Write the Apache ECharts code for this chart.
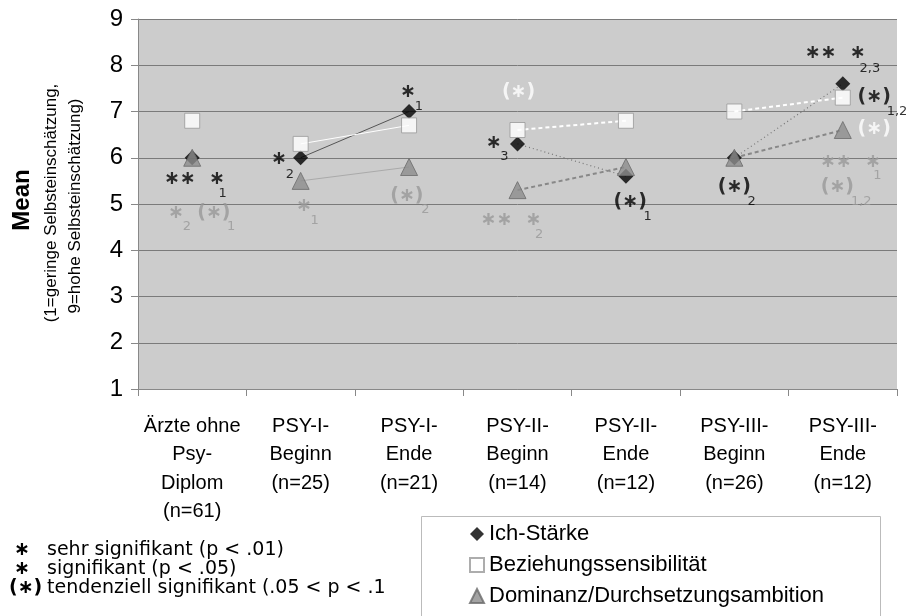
<!DOCTYPE html>
<html>
<head>
<meta charset="utf-8">
<script src="https://cdn.jsdelivr.net/npm/echarts@6/dist/echarts.min.js"></script>
<style>
  html, body { margin: 0; padding: 0; background: #fff; }
  #chart { width: 906px; height: 616px; }
</style>
</head>
<body>
<div id="chart"></div>
<script>
const categories = [
  'Ärzte ohne\nPsy-\nDiplom\n(n=61)',
  'PSY-I-\nBeginn\n(n=25)',
  'PSY-I-\nEnde\n(n=21)',
  'PSY-II-\nBeginn\n(n=14)',
  'PSY-II-\nEnde\n(n=12)',
  'PSY-III-\nBeginn\n(n=26)',
  'PSY-III-\nEnde\n(n=12)'
];
const ichStaerke = [6.0, 6.0, 7.0, 6.3, 5.6, 6.0, 7.6];
const beziehung = [6.8, 6.3, 6.7, 6.6, 6.8, 7.0, 7.3];
const dominanz = [6.0, 5.5, 5.8, 5.3, 5.8, 6.0, 6.6];
// Beginn -> Ende pairs that are joined by a line
const segments = [[1, 2], [3, 4], [5, 6]];

// significance marks: [x in category units (0..7), y, text, tone, kind]
const notes = [
  [0.52, 5.54, '**  *', 'k', 'star'],
  [0.78, 5.22, '1', 'k', 'sub'],
  [1.30, 5.98, '*', 'k', 'star'],
  [1.40, 5.63, '2', 'k', 'sub'],
  [2.49, 7.42, '*', 'k', 'star'],
  [2.59, 7.10, '1', 'k', 'sub'],
  [3.28, 6.32, '*', 'k', 'star'],
  [3.38, 6.02, '3', 'k', 'sub'],
  [4.54, 5.05, '(*)', 'k', 'star'],
  [4.70, 4.72, '1', 'k', 'sub'],
  [5.50, 5.37, '(*)', 'k', 'star'],
  [5.66, 5.05, '2', 'k', 'sub'],
  [6.43, 8.27, '**  *', 'k', 'star'],
  [6.75, 7.92, '2,3', 'k', 'sub'],
  [6.79, 7.32, '(*)', 'k', 'star'],
  [7.00, 6.99, '1,2', 'k', 'sub'],
  [0.35, 4.81, '*', 'g', 'star'],
  [0.45, 4.51, '2', 'g', 'sub'],
  [0.70, 4.81, '(*)', 'g', 'star'],
  [0.86, 4.51, '1', 'g', 'sub'],
  [1.53, 4.96, '*', 'g', 'star'],
  [1.63, 4.64, '1', 'g', 'sub'],
  [2.48, 5.18, '(*)', 'g', 'star'],
  [2.65, 4.87, '2', 'g', 'sub'],
  [3.44, 4.65, '**  *', 'g', 'star'],
  [3.70, 4.33, '2', 'g', 'sub'],
  [6.57, 5.91, '**  *', 'g', 'star'],
  [6.82, 5.61, '1', 'g', 'sub'],
  [6.45, 5.37, '(*)', 'g', 'star'],
  [6.67, 5.05, '1,2', 'g', 'sub'],
  [3.51, 7.42, '(*)', 'w', 'star'],
  [6.79, 6.62, '(*)', 'w', 'star']
];

const keyRows = [
  ['*', 'sehr signifikant (p < .01)'],
  ['*', 'signifikant (p < .05)'],
  ['(*)', 'tendenziell signifikant (.05 < p < .10)']
];

const toneColor = { k: '#000', g: '#999', w: '#fff' };

const myChart = echarts.init(document.getElementById('chart'));

function segData(values, pair) {
  return values.map((v, i) => (i === pair[0] || i === pair[1]) ? v : null);
}

// centred asterisk glyph, like the original's font
const star = s => s.replace(/\*/g, '\u2217');

const measures = [
  {
    name: 'Ich-Stärke', values: ichStaerke, symbol: 'diamond', size: 15,
    item: { color: '#000' },
    lines: [
      { color: '#555', width: 1, type: 'solid' },
      { color: '#777', width: 1.2, type: [1, 3] },
      { color: '#777', width: 1.2, type: [1, 3] }
    ]
  },
  {
    name: 'Beziehungssensibilität', values: beziehung, symbol: 'rect', size: 15,
    item: { color: '#fff', borderColor: '#999', borderWidth: 1 },
    lines: [
      { color: '#fff', width: 1, type: 'solid' },
      { color: '#fff', width: 2, type: [4, 3] },
      { color: '#fff', width: 2, type: [4, 3] }
    ]
  },
  {
    name: 'Dominanz/Durchsetzungsambition', values: dominanz, symbol: 'triangle', size: 17,
    item: { color: '#8c8c8c', borderColor: '#6a6a6a', borderWidth: 1 },
    lines: [
      { color: '#aaa', width: 1, type: 'solid' },
      { color: '#888', width: 2, type: [4, 3] },
      { color: '#888', width: 2, type: [4, 3] }
    ]
  }
];

const series = [];
measures.forEach(m => {
  segments.forEach((pair, k) => {
    series.push({
      name: m.name + '-' + k,
      type: 'line',
      data: segData(m.values, pair),
      symbol: 'none',
      silent: true,
      z: 2,
      lineStyle: m.lines[k]
    });
  });
});
measures.forEach(m => {
  series.push({
    name: m.name,
    type: 'scatter',
    data: m.values,
    symbol: m.symbol,
    symbolSize: m.size,
    itemStyle: m.item,
    z: 3
  });
});

series.push({
  type: 'scatter',
  xAxisIndex: 1,
  symbolSize: 0,
  silent: true,
  clip: false,
  z: 5,
  data: notes.map(n => ({
    value: [n[0], n[1]],
    label: {
      show: true,
      position: 'inside',
      formatter: n[4] === 'star' ? star(n[2]) : n[2],
      color: toneColor[n[3]],
      fontFamily: 'DejaVu Sans',
      fontWeight: n[4] === 'star' ? 'bold' : 'normal',
      fontSize: n[4] === 'star' ? 19 : 13
    }
  }))
});

const graphic = [
  {
    type: 'rect', left: 421, top: 516, z: 0,
    shape: { width: 459, height: 130 },
    style: { fill: '#fff', stroke: '#bbb', lineWidth: 1 }
  },
  {
    type: 'text', x: 22, y: 200, rotation: Math.PI / 2, z: 1,
    style: { text: 'Mean', font: 'bold 24px "Liberation Sans"', fill: '#000', align: 'center', verticalAlign: 'middle' }
  },
  {
    type: 'text', x: 51, y: 203, rotation: Math.PI / 2, z: 1,
    style: { text: '(1=geringe Selbsteinschätzung,', font: '17px "Liberation Sans"', fill: '#000', align: 'center', verticalAlign: 'middle' }
  },
  {
    type: 'text', x: 75, y: 206, rotation: Math.PI / 2, z: 1,
    style: { text: '9=hohe Selbsteinschätzung)', font: '17px "Liberation Sans"', fill: '#000', align: 'center', verticalAlign: 'middle' }
  }
];
keyRows.forEach((row, i) => {
  graphic.push({
    type: 'text', x: row[0] === '*' ? 14 : 9, y: 550 + i * 19, z: 1,
    style: { text: star(row[0]), font: 'bold 19px "DejaVu Sans"', fill: '#000', verticalAlign: 'middle' }
  });
  graphic.push({
    type: 'text', x: 47, y: 550 + i * 19, z: 1,
    style: {
      text: row[1], font: '19px "DejaVu Sans"', fill: '#000', verticalAlign: 'middle',
      width: 350, overflow: 'truncate', ellipsis: ''
    }
  });
});

const option = {
  animation: false,
  backgroundColor: '#fff',
  grid: {
    left: 138, right: 9, top: 19, bottom: 227,
    show: true, backgroundColor: '#cccccc', borderWidth: 0
  },
  legend: {
    data: measures.map(m => m.name),
    orient: 'vertical',
    left: 469,
    top: 523,
    itemGap: 9,
    itemWidth: 14,
    itemHeight: 14,
    padding: 0,
    z: 10,
    textStyle: { fontSize: 22, fontFamily: 'Liberation Sans', color: '#000' }
  },
  xAxis: [
    {
      type: 'category',
      data: categories,
      axisLine: { lineStyle: { color: '#888' } },
      axisTick: { show: true, length: 7, lineStyle: { color: '#888' } },
      axisLabel: {
        interval: 0, margin: 23, color: '#000',
        fontSize: 20, lineHeight: 28.5, fontFamily: 'Liberation Sans'
      }
    },
    { type: 'value', min: 0, max: 7, show: false }
  ],
  yAxis: {
    type: 'value',
    min: 1, max: 9, interval: 1,
    axisLine: { show: true, lineStyle: { color: '#888' } },
    axisTick: { show: true, length: 7, lineStyle: { color: '#888' } },
    axisLabel: { margin: 15, color: '#000', fontSize: 24, fontFamily: 'Liberation Sans' },
    splitLine: { lineStyle: { color: '#7a7a7a' } }
  },
  graphic: graphic,
  series: series
};

myChart.setOption(option);
</script>
</body>
</html>
